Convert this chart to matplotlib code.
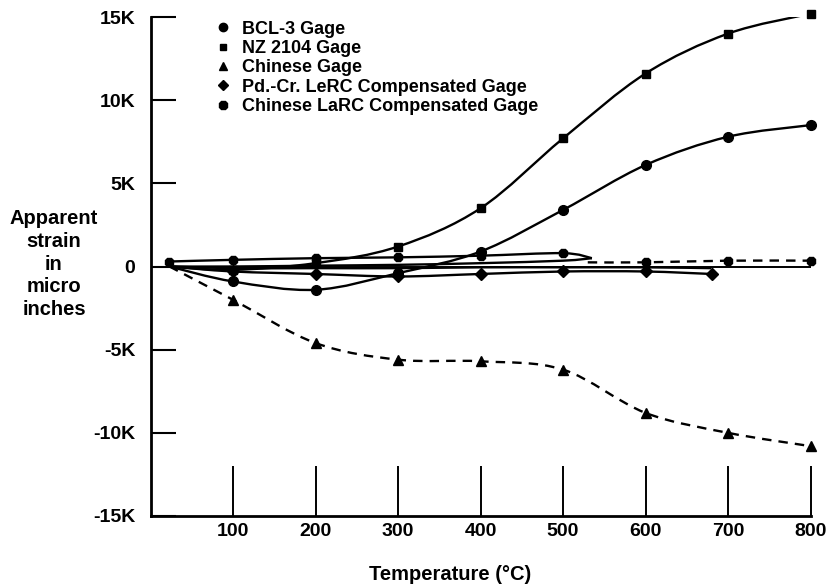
import numpy as np
import matplotlib
matplotlib.use('Agg')
import matplotlib.pyplot as plt
from matplotlib.path import Path
from matplotlib.patches import PathPatch

plt.rcParams['font.family'] = ['Liberation Sans', 'DejaVu Sans']
plt.rcParams['font.weight'] = 'bold'

# values, strain in thousands of micro inches
temps = [23, 100, 200, 300, 400, 500, 600, 700, 800]
bcl3 = [0.0, -0.9, -1.4, -0.4, 0.9, 3.4, 6.1, 7.8, 8.5]
nz2104 = [0.0, -0.2, 0.2, 1.2, 3.5, 7.7, 11.6, 14.0, 15.2]
chinese = [0.0, -2.0, -4.6, -5.6, -5.7, -6.2, -8.8, -10.0, -10.8]

pdcr_temps = [23, 100, 200, 300, 400, 500, 600, 680]
pdcr_heat = [0.0, -0.3, -0.45, -0.6, -0.45, -0.3, -0.3, -0.45]
pdcr_cool_temps = [680, 600, 500, 400, 300, 200, 100, 23]
pdcr_cool = [-0.1, -0.05, -0.05, -0.05, -0.1, -0.1, -0.1, 0.0]

larc_temps = [23, 100, 200, 300, 400, 500, 535]
larc_heat = [0.3, 0.4, 0.5, 0.55, 0.65, 0.8, 0.5]
larc_cool_temps = [535, 500, 400, 300, 200, 100, 23]
larc_cool = [0.5, 0.35, 0.2, 0.1, 0.05, 0.0, 0.0]
larc_ext_temps = [530, 600, 700, 800]
larc_ext = [0.25, 0.25, 0.35, 0.35]

labels = ['BCL-3 Gage', 'NZ 2104 Gage', 'Chinese Gage',
          'Pd.-Cr. LeRC Compensated Gage', 'Chinese LaRC Compensated Gage']
yticks = [-15, -10, -5, 0, 5, 10, 15]
yticklabels = ['-15K', '-10K', '-5K', '0', '5K', '10K', '15K']
xticks = [100, 200, 300, 400, 500, 600, 700, 800]


def smooth(ax, xs, ys, ls='-'):
    # catmull-rom through the points, drawn as bezier path
    pts = np.column_stack([xs, ys]).astype(float)
    n = len(pts)
    verts = [pts[0]]
    codes = [Path.MOVETO]
    for i in range(n - 1):
        p0 = pts[max(i - 1, 0)]
        p1 = pts[i]
        p2 = pts[i + 1]
        p3 = pts[min(i + 2, n - 1)]
        verts += [p1 + (p2 - p0) / 6, p2 - (p3 - p1) / 6, p2]
        codes += [Path.CURVE4] * 3
    patch = PathPatch(Path(verts, codes), fill=False, color='black', lw=1.7)
    if ls == '--':
        patch.set_linestyle((0, (4, 3)))
    ax.add_patch(patch)


fig = plt.figure(figsize=(8.33, 5.88), dpi=100)
ax = fig.add_axes([150.5 / 833, 72 / 588, 660 / 833, 499 / 588])
ax.set_xlim(0, 800)
ax.set_ylim(-15, 15)

ax.axhline(0, color='black', lw=1.4)

smooth(ax, temps, bcl3)
smooth(ax, temps, nz2104)
smooth(ax, temps, chinese, '--')
smooth(ax, pdcr_temps, pdcr_heat)
smooth(ax, pdcr_cool_temps, pdcr_cool)
smooth(ax, larc_temps, larc_heat)
smooth(ax, larc_cool_temps, larc_cool)
smooth(ax, larc_ext_temps, larc_ext, '--')

kw = dict(color='black', ls='none', clip_on=False)
ax.plot(temps[1:], bcl3[1:], marker='o', ms=7, **kw)
ax.plot(temps[1:], nz2104[1:], marker='s', ms=6, **kw)
ax.plot(temps[1:], chinese[1:], marker='^', ms=7, **kw)
ax.plot(pdcr_temps[1:], pdcr_heat[1:], marker='D', ms=6, **kw)
ax.plot(larc_temps[:-1], larc_heat[:-1], marker='8', ms=7, **kw)
ax.plot(larc_ext_temps[1:], larc_ext[1:], marker='8', ms=7, **kw)

handles = [
    plt.Line2D([], [], ls='none', marker='o', color='black', ms=6),
    plt.Line2D([], [], ls='none', marker='s', color='black', ms=5),
    plt.Line2D([], [], ls='none', marker='^', color='black', ms=6),
    plt.Line2D([], [], ls='none', marker='D', color='black', ms=5),
    plt.Line2D([], [], ls='none', marker='8', color='black', ms=6),
]
leg = ax.legend(handles, labels, loc='upper left', frameon=False,
                bbox_to_anchor=(214 / 833, 1 - 20.5 / 588), bbox_transform=fig.transFigure,
                borderpad=0, borderaxespad=0, handlelength=1.0, handletextpad=0.55,
                labelspacing=0.13, prop={'size': 13, 'weight': 'bold'})

for side in ['top', 'right']:
    ax.spines[side].set_visible(False)
for side in ['left', 'bottom']:
    ax.spines[side].set_linewidth(2.0)

ax.set_yticks(yticks)
ax.set_yticklabels(yticklabels)
ax.set_xticks(xticks)
ax.set_xticklabels([str(t) for t in xticks])
ax.tick_params(axis='y', direction='in', length=18, width=1.5, pad=11, labelsize=14)
ax.tick_params(axis='x', direction='in', length=36, width=1.4, pad=5, labelsize=14)

fig.text(54 / 833, 1 - 264 / 588, 'Apparent\nstrain\nin\nmicro\ninches',
         ha='center', va='center', fontsize=14.5, fontweight='bold', linespacing=1.26)
fig.text(450 / 833, 1 - 575 / 588, 'Temperature (°C)', ha='center', va='center',
         fontsize=14.5, fontweight='bold')

fig.savefig('out.png', dpi=100)
